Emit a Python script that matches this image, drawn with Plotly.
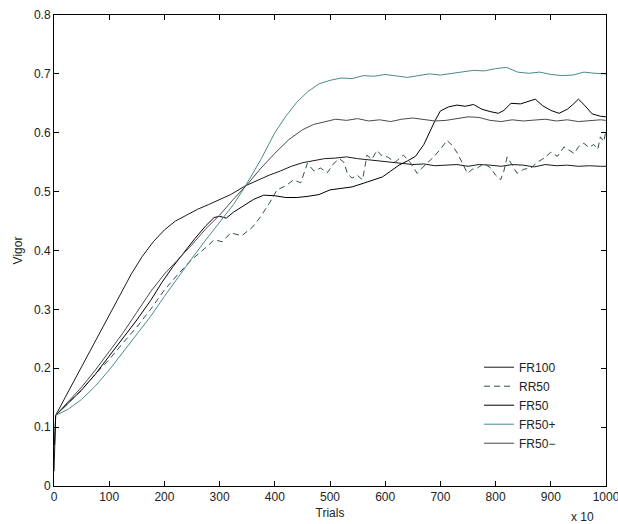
import plotly.graph_objects as go

fr100_x = [0,3,20,40,60,80,100,120,140,160,180,200,220,240,260,280,300,320,347,370,390,410,430,450,470,490,510,530,550,570,590,610,630,650,670,690,710,730,750,770,790,810,830,850,870,890,910,930,950,970,990,1000]
fr100_y = [0.025,0.12,0.15,0.185,0.22,0.255,0.29,0.325,0.36,0.39,0.415,0.435,0.45,0.46,0.47,0.478,0.487,0.495,0.51,0.52,0.528,0.535,0.543,0.549,0.553,0.556,0.557,0.559,0.556,0.554,0.552,0.551,0.549,0.546,0.547,0.544,0.545,0.546,0.543,0.546,0.545,0.543,0.546,0.545,0.542,0.546,0.544,0.545,0.543,0.544,0.543,0.543]

rr50_x = [3,25,50,75,100,125,150,175,200,225,250,275,290,305,320,340,360,374,390,404,420,434,447,459,471,483,495,507,517,525,532,540,549,559,567,576,585,595,604,618,633,645,658,672,688,700,712,722,731,740,749,758,767,779,791,800,809,815,821,830,839,851,864,876,888,900,912,924,933,942,951,960,969,978,985,990,996,1000]
rr50_y = [0.12,0.14,0.163,0.19,0.215,0.243,0.27,0.3,0.333,0.36,0.385,0.405,0.418,0.415,0.43,0.425,0.44,0.457,0.48,0.503,0.51,0.52,0.515,0.548,0.535,0.54,0.532,0.548,0.556,0.55,0.53,0.523,0.528,0.52,0.562,0.555,0.57,0.56,0.559,0.55,0.562,0.55,0.531,0.545,0.559,0.572,0.587,0.578,0.565,0.548,0.531,0.538,0.54,0.548,0.54,0.528,0.52,0.535,0.559,0.545,0.531,0.538,0.54,0.55,0.557,0.567,0.56,0.576,0.57,0.565,0.577,0.582,0.575,0.58,0.572,0.593,0.585,0.604]

fr50_x = [1,3,25,50,75,100,125,150,175,195,215,235,255,275,290,300,312,325,344,362,380,400,420,440,460,480,500,520,540,560,580,595,610,625,640,655,670,680,690,700,715,730,745,760,775,790,805,815,828,845,860,872,885,900,915,930,940,950,960,975,990,1000]
fr50_y = [0.07,0.12,0.14,0.163,0.19,0.22,0.25,0.282,0.315,0.345,0.372,0.397,0.42,0.442,0.456,0.458,0.455,0.465,0.477,0.487,0.494,0.493,0.49,0.49,0.492,0.495,0.503,0.505,0.508,0.514,0.52,0.525,0.535,0.545,0.552,0.56,0.58,0.6,0.62,0.637,0.644,0.647,0.645,0.648,0.64,0.636,0.633,0.638,0.65,0.649,0.653,0.657,0.646,0.638,0.633,0.64,0.648,0.657,0.648,0.632,0.628,0.627]

fr50p_x = [3,25,50,75,100,125,150,175,200,225,250,275,300,325,347,375,400,420,440,460,480,500,520,540,560,580,600,620,640,660,680,700,720,740,760,780,800,820,840,860,880,900,920,940,960,980,1000]
fr50p_y = [0.12,0.13,0.147,0.17,0.197,0.228,0.258,0.288,0.322,0.355,0.387,0.418,0.448,0.478,0.51,0.555,0.6,0.628,0.652,0.67,0.683,0.689,0.693,0.692,0.697,0.696,0.699,0.697,0.694,0.697,0.7,0.698,0.701,0.703,0.706,0.705,0.709,0.711,0.703,0.701,0.703,0.699,0.697,0.698,0.703,0.701,0.7]

fr50m_x = [3,25,50,75,100,125,150,175,200,225,250,275,300,325,350,375,400,425,450,470,490,510,530,550,570,590,610,630,650,670,690,710,730,750,770,790,810,830,850,870,890,910,930,950,970,990,1000]
fr50m_y = [0.12,0.142,0.168,0.197,0.228,0.26,0.295,0.33,0.36,0.385,0.41,0.437,0.46,0.487,0.512,0.54,0.565,0.588,0.605,0.614,0.619,0.623,0.621,0.624,0.62,0.622,0.619,0.623,0.625,0.622,0.62,0.621,0.624,0.627,0.626,0.621,0.619,0.622,0.62,0.621,0.623,0.62,0.622,0.619,0.621,0.622,0.621]

x_ticks = [0,100,200,300,400,500,600,700,800,900,1000]
y_ticks = [0,0.1,0.2,0.3,0.4,0.5,0.6,0.7,0.8]

series = [
    ("FR100", fr100_x, fr100_y, "#1a1a1a", "solid"),
    ("RR50", rr50_x, rr50_y, "#2f4f4f", "6px,4px"),
    ("FR50", fr50_x, fr50_y, "#000000", "solid"),
    ("FR50+", fr50p_x, fr50p_y, "#4a8a8a", "solid"),
    ("FR50\u2212", fr50m_x, fr50m_y, "#4a4a4a", "solid"),
]

fig = go.Figure()
for name, xs, ys, col, dash in series:
    fig.add_trace(go.Scatter(x=xs, y=ys, mode="lines", name=name,
                             line=dict(color=col, width=1, dash=dash)))

FONT = "Liberation Sans, Arial, sans-serif"
axis_common = dict(showline=True, linecolor="black", linewidth=1, mirror="ticks",
                   ticks="inside", ticklen=5, tickcolor="black", showgrid=False,
                   zeroline=False, automargin=False, ticklabeloverflow="allow",
                   tickfont=dict(family=FONT, size=12, color="#222"))

fig.update_layout(
    width=618, height=524,
    margin=dict(l=54, r=12, t=15, b=38),
    paper_bgcolor="white", plot_bgcolor="white",
    font=dict(family=FONT, size=12, color="#222"),
    xaxis=dict(range=[0, 1000], tickvals=x_ticks, title=dict(text="Trials", standoff=5, font=dict(size=12)), **axis_common),
    yaxis=dict(range=[0, 0.8], tickvals=y_ticks, title=dict(text="Vigor", standoff=8, font=dict(size=12)), **axis_common),
    legend=dict(x=0.77, y=0.283, xanchor="left", yanchor="top", bgcolor="rgba(0,0,0,0)",
                borderwidth=0, font=dict(family=FONT, size=12, color="#222"),
                tracegroupgap=0, itemwidth=30),
    showlegend=True,
    annotations=[dict(text="x 10", xref="paper", yref="paper", x=0.958, y=-0.066,
                      showarrow=False, xanchor="center", yanchor="middle",
                      font=dict(family=FONT, size=12, color="#222"))],
)

fig.write_html("out.html", config={"displayModeBar": False},
               post_script="document.body.style.margin='0';document.body.style.overflow='hidden';")
